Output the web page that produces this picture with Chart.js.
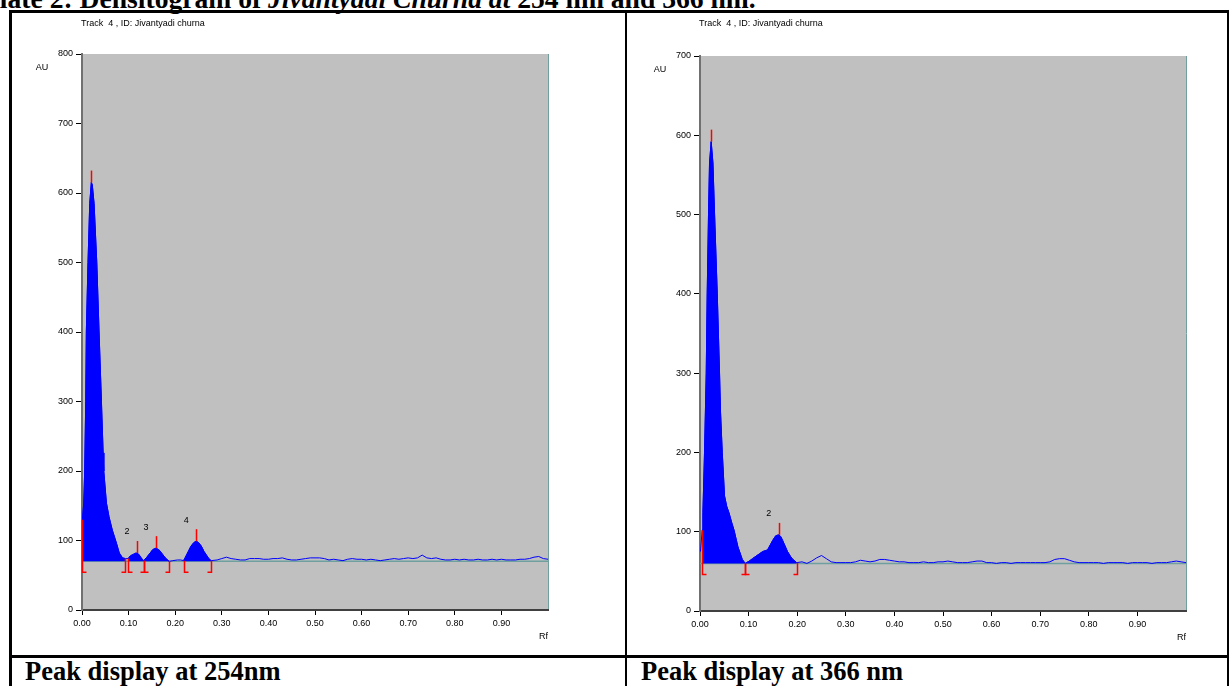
<!DOCTYPE html>
<html>
<head>
<meta charset="utf-8">
<script src="https://cdn.jsdelivr.net/npm/chart.js@4.4.0/dist/chart.umd.min.js"></script>
<style>
  body { margin: 0; background: #fff; width: 1229px; height: 686px; overflow: hidden; position: relative; font-family: "Liberation Serif", "Times New Roman", serif; }
  .rule { position: absolute; background: #000; }
  #title { position: absolute; left: -17px; top: -15px; font-size: 27.6px; font-weight: bold; line-height: 1; white-space: nowrap; }
  .cap { position: absolute; top: 658px; font-size: 26.5px; font-weight: bold; line-height: 1; white-space: nowrap; }
  canvas { position: absolute; }
</style>
</head>
<body>
<div id="title">Plate 2: Densitogram of <i>Jivantyadi Churna at</i> 254 nm and 366 nm.</div>

<div class="rule" style="left:9px;top:10px;width:1220px;height:3px"></div>
<div class="rule" style="left:9px;top:10px;width:3px;height:676px"></div>
<div class="rule" style="left:625px;top:10px;width:2px;height:676px"></div>
<div class="rule" style="left:1227px;top:10px;width:2px;height:676px"></div>
<div class="rule" style="left:9px;top:655px;width:1220px;height:3px"></div>

<canvas id="c254" width="613" height="642" style="left:12px;top:13px"></canvas>
<canvas id="c366" width="600" height="642" style="left:627px;top:13px"></canvas>

<div class="cap" style="left:25px">Peak display at 254nm</div>
<div class="cap" style="left:641px">Peak display at 366 nm</div>

<script>
// Track 4, Jivantyadi churna - densitogram at 254 nm
const rf254 = [0, 0.001, 0.0037, 0.0058, 0.008, 0.0093, 0.0129, 0.0166, 0.020, 0.022, 0.0259, 0.0317, 0.0366, 0.0417,
  0.0453, 0.0467, 0.0524, 0.058, 0.065, 0.074, 0.080, 0.087, 0.093,
  0.099, 0.104, 0.110, 0.116, 0.118, 0.122, 0.127, 0.132,
  0.138, 0.145, 0.152, 0.159, 0.166, 0.173, 0.180, 0.187,
  0.195, 0.205, 0.212, 0.218, 0.222, 0.228, 0.234, 0.240, 0.245, 0.250, 0.256, 0.262, 0.268, 0.272, 0.277,
  0.29, 0.30, 0.31, 0.32, 0.33, 0.34, 0.35, 0.36, 0.37, 0.38, 0.39, 0.40, 0.41, 0.42, 0.43, 0.44, 0.45,
  0.46, 0.47, 0.48, 0.49, 0.50, 0.51, 0.52, 0.53, 0.54, 0.55, 0.56, 0.57, 0.58, 0.59, 0.60, 0.61, 0.62,
  0.63, 0.64, 0.65, 0.66, 0.67, 0.68, 0.69, 0.70, 0.71, 0.72, 0.73, 0.74, 0.75, 0.76, 0.77, 0.78, 0.79,
  0.80, 0.81, 0.82, 0.83, 0.84, 0.85, 0.86, 0.87, 0.88, 0.89, 0.90, 0.91, 0.92, 0.93, 0.94, 0.95, 0.96,
  0.97, 0.98, 0.99, 1.00];
const au254 = [95, 130, 154, 200, 300, 400, 500, 585, 615, 612, 585, 500, 400, 300,
  226, 200, 154, 134, 115, 96, 82, 75, 74,
  74, 78, 80, 82, 82, 80, 75, 71,
  75, 81, 87, 89, 86, 80, 74, 70,
  71, 72, 72, 71, 76, 84, 92, 97, 99, 97, 92, 84, 78, 74, 71,
  72, 74, 76, 74, 73, 72, 72, 74, 74, 74, 73, 73, 74, 74, 75, 73, 72,
  72, 73, 74, 75, 75, 75, 74, 72, 73, 72, 71, 73, 74, 73, 73, 72, 73,
  72, 71, 72, 73, 74, 73, 74, 75, 74, 75, 79, 75, 74, 75, 73, 72, 72,
  73, 72, 73, 72, 72, 73, 72, 72, 73, 72, 73, 72, 72, 72, 73, 73, 74,
  76, 77, 74, 73];
const baseline254 = 70;
const peakStart254 = [0.001, 0.099, 0.132, 0.218];
const peakEnd254 = [0.093, 0.132, 0.187, 0.277];
const apexRf254 = [0.020, 0.118, 0.159, 0.245];
const apexAu254 = [615, 82, 89, 99];
const peakNo254 = ['', '2', '3', '4'];
const yTicks254 = [0, 100, 200, 300, 400, 500, 600, 700, 800];

// same track at 366 nm
const rf366 = [0.001, 0.0045, 0.006, 0.0093, 0.0128, 0.0148, 0.0175, 0.0196, 0.023, 0.0266, 0.030, 0.0355, 0.0402,
  0.0423, 0.0458, 0.0505, 0.055, 0.0596, 0.065, 0.070, 0.078, 0.087, 0.093,
  0.1014, 0.108, 0.115, 0.122, 0.129, 0.139, 0.1495, 0.156, 0.162, 0.166, 0.170, 0.175, 0.180, 0.186, 0.191, 0.199,
  0.21, 0.22, 0.23, 0.24, 0.25, 0.26, 0.27, 0.28, 0.29, 0.30, 0.31, 0.32, 0.33, 0.34, 0.35, 0.36, 0.37,
  0.38, 0.39, 0.40, 0.41, 0.42, 0.43, 0.44, 0.45, 0.46, 0.47, 0.48, 0.49, 0.50, 0.51, 0.52, 0.53, 0.54,
  0.55, 0.56, 0.57, 0.58, 0.59, 0.60, 0.61, 0.62, 0.63, 0.64, 0.65, 0.66, 0.67, 0.68, 0.69, 0.70, 0.71,
  0.72, 0.73, 0.74, 0.75, 0.76, 0.77, 0.78, 0.79, 0.80, 0.81, 0.82, 0.83, 0.84, 0.85, 0.86, 0.87, 0.88,
  0.89, 0.90, 0.91, 0.92, 0.93, 0.94, 0.95, 0.96, 0.97, 0.98, 0.99, 1.00];
const au366 = [75, 102, 124, 200, 300, 400, 500, 565, 592, 565, 500, 400, 300,
  250, 200, 145, 132, 124, 112, 102, 81, 65, 60,
  63, 66, 69, 72, 75, 77, 89, 95, 96, 94, 89, 82, 75, 69, 65, 61,
  62, 60, 63, 67, 70, 66, 62, 61, 61, 61, 61, 62, 64, 63, 62, 63, 65,
  65, 64, 63, 62, 62, 61, 61, 61, 62, 61, 61, 62, 62, 63, 62, 61, 61,
  61, 62, 63, 63, 61, 61, 60, 61, 61, 60, 61, 61, 61, 61, 61, 61, 61,
  62, 65, 66, 66, 64, 62, 61, 61, 61, 61, 61, 60, 61, 61, 61, 61, 60,
  61, 61, 61, 61, 60, 61, 61, 61, 62, 63, 62, 61];
const baseline366 = 60;
const peakStart366 = [0.0045, 0.093];
const peakEnd366 = [0.093, 0.199];
const apexRf366 = [0.023, 0.162];
const apexAu366 = [592, 96];
const peakNo366 = ['', '2'];
const yTicks366 = [0, 100, 200, 300, 400, 500, 600, 700];

const xTicks = [0, 0.1, 0.2, 0.3, 0.4, 0.5, 0.6, 0.7, 0.8, 0.9];

Chart.defaults.font.family = '"Liberation Sans", Arial, sans-serif';
Chart.defaults.animation = false;

// grey plot field, teal right edge, captions, red peak marks
const densPlugin = {
  id: 'dens',
  beforeDraw(chart) {
    const a = chart.chartArea, ctx = chart.ctx;
    ctx.save();
    ctx.fillStyle = '#c0c0c0';
    ctx.fillRect(a.left, a.top, a.right - a.left, a.bottom - a.top);
    ctx.strokeStyle = '#6f9f9f';
    ctx.lineWidth = 1;
    ctx.beginPath();
    ctx.moveTo(a.right + 0.5, a.top);
    ctx.lineTo(a.right + 0.5, a.bottom);
    ctx.stroke();
    ctx.restore();
  },
  afterDatasetsDraw(chart, args, o) {
    const a = chart.chartArea, ctx = chart.ctx;
    const x = chart.scales.x, y = chart.scales.y;
    const base = y.getPixelForValue(o.baseline);
    const curveAt = r => {
      const i = o.rf.findIndex(v => Math.abs(v - r) < 1e-6);
      return i >= 0 ? o.au[i] : o.baseline;
    };
    ctx.save();
    ctx.strokeStyle = '#ff0000';
    ctx.lineWidth = 1.5;
    // apex ticks
    o.apexRf.forEach((r, i) => {
      const px = Math.round(x.getPixelForValue(r)) + 0.5;
      const py = y.getPixelForValue(o.apexAu[i]);
      ctx.beginPath();
      ctx.moveTo(px, py);
      ctx.lineTo(px, py - 12);
      ctx.stroke();
    });
    // start / end brackets below baseline
    const bracket = (r, dir) => {
      const px = Math.round(x.getPixelForValue(r)) + 0.5;
      const top = Math.min(base, y.getPixelForValue(curveAt(r)));
      ctx.beginPath();
      ctx.moveTo(px, top);
      ctx.lineTo(px, base + 11);
      ctx.lineTo(px + dir * 4, base + 11);
      ctx.stroke();
    };
    o.starts.forEach(r => bracket(r, 1));
    o.ends.forEach(r => bracket(r, -1));
    // peak numbers
    ctx.fillStyle = '#000';
    ctx.font = '9px "Liberation Sans", Arial, sans-serif';
    ctx.textAlign = 'center';
    ctx.textBaseline = 'middle';
    o.labels.forEach((t, i) => {
      if (!t) return;
      ctx.fillText(t, x.getPixelForValue(o.apexRf[i]) - 10, y.getPixelForValue(o.apexAu[i]) - 21);
    });
    // header and axis names
    ctx.textAlign = 'left';
    ctx.fillText('Track  4 , ID: Jivantyadi churna', a.left - 1, o.titleY);
    ctx.textAlign = 'center';
    ctx.fillText('AU', a.left - 40, a.top + 14);
    ctx.textAlign = 'right';
    ctx.fillText('Rf', a.right, a.bottom + 27);
    ctx.restore();
  }
};

function makeChart(id, rf, au, baseline, starts, ends, apexRf, apexAu, labels, yTicks, yMax, pad) {
  const curve = rf.map((r, i) => ({ x: r, y: au[i] }));
  const fills = starts.map((s, k) => ({
    data: curve.filter(p => p.x >= s - 1e-6 && p.x <= ends[k] + 1e-6),
    borderColor: '#0000ff',
    borderWidth: 1,
    backgroundColor: '#0000ff',
    fill: { value: baseline },
    pointRadius: 0,
    tension: 0,
    order: 2
  }));
  new Chart(document.getElementById(id), {
    type: 'line',
    data: {
      datasets: [
        { data: curve, borderColor: '#0000ff', borderWidth: 1, pointRadius: 0, tension: 0, fill: false, order: 1 },
        ...fills,
        { data: [{ x: 0, y: baseline }, { x: 1, y: baseline }], borderColor: '#6f9f9f', borderWidth: 1.5,
          pointRadius: 0, fill: false, order: 3 }
      ]
    },
    options: {
      responsive: false,
      events: [],
      layout: { padding: pad },
      plugins: {
        legend: { display: false },
        tooltip: { enabled: false },
        dens: { rf, au, baseline, starts, ends, apexRf, apexAu, labels, titleY: 11 }
      },
      scales: {
        x: {
          type: 'linear', min: 0, max: 1,
          afterBuildTicks: s => { s.ticks = xTicks.map(v => ({ value: v })); },
          afterFit: s => { s.height = 30; },
          ticks: { callback: v => Number(v).toFixed(2), color: '#000', font: { size: 9 }, maxRotation: 0, autoSkip: false, padding: 3 },
          grid: { drawOnChartArea: false, tickLength: 5, color: '#000' },
          border: { color: '#404040', width: 2 }
        },
        y: {
          type: 'linear', min: 0, max: yMax,
          afterBuildTicks: s => { s.ticks = yTicks.map(v => ({ value: v })); },
          afterFit: s => { s.width = 40; },
          ticks: { color: '#000', font: { size: 9 }, padding: 3 },
          grid: { drawOnChartArea: false, tickLength: 6, color: '#000' },
          border: { color: '#707070', width: 2 }
        }
      }
    },
    plugins: [densPlugin]
  });
}

makeChart('c254', rf254, au254, baseline254, peakStart254, peakEnd254, apexRf254, apexAu254, peakNo254,
  yTicks254, 800, { top: 41, right: 77, left: 30, bottom: 15 });
makeChart('c366', rf366, au366, baseline366, peakStart366, peakEnd366, apexRf366, apexAu366, peakNo366,
  yTicks366, 700, { top: 43, right: 41, left: 33, bottom: 14 });
</script>
</body>
</html>
